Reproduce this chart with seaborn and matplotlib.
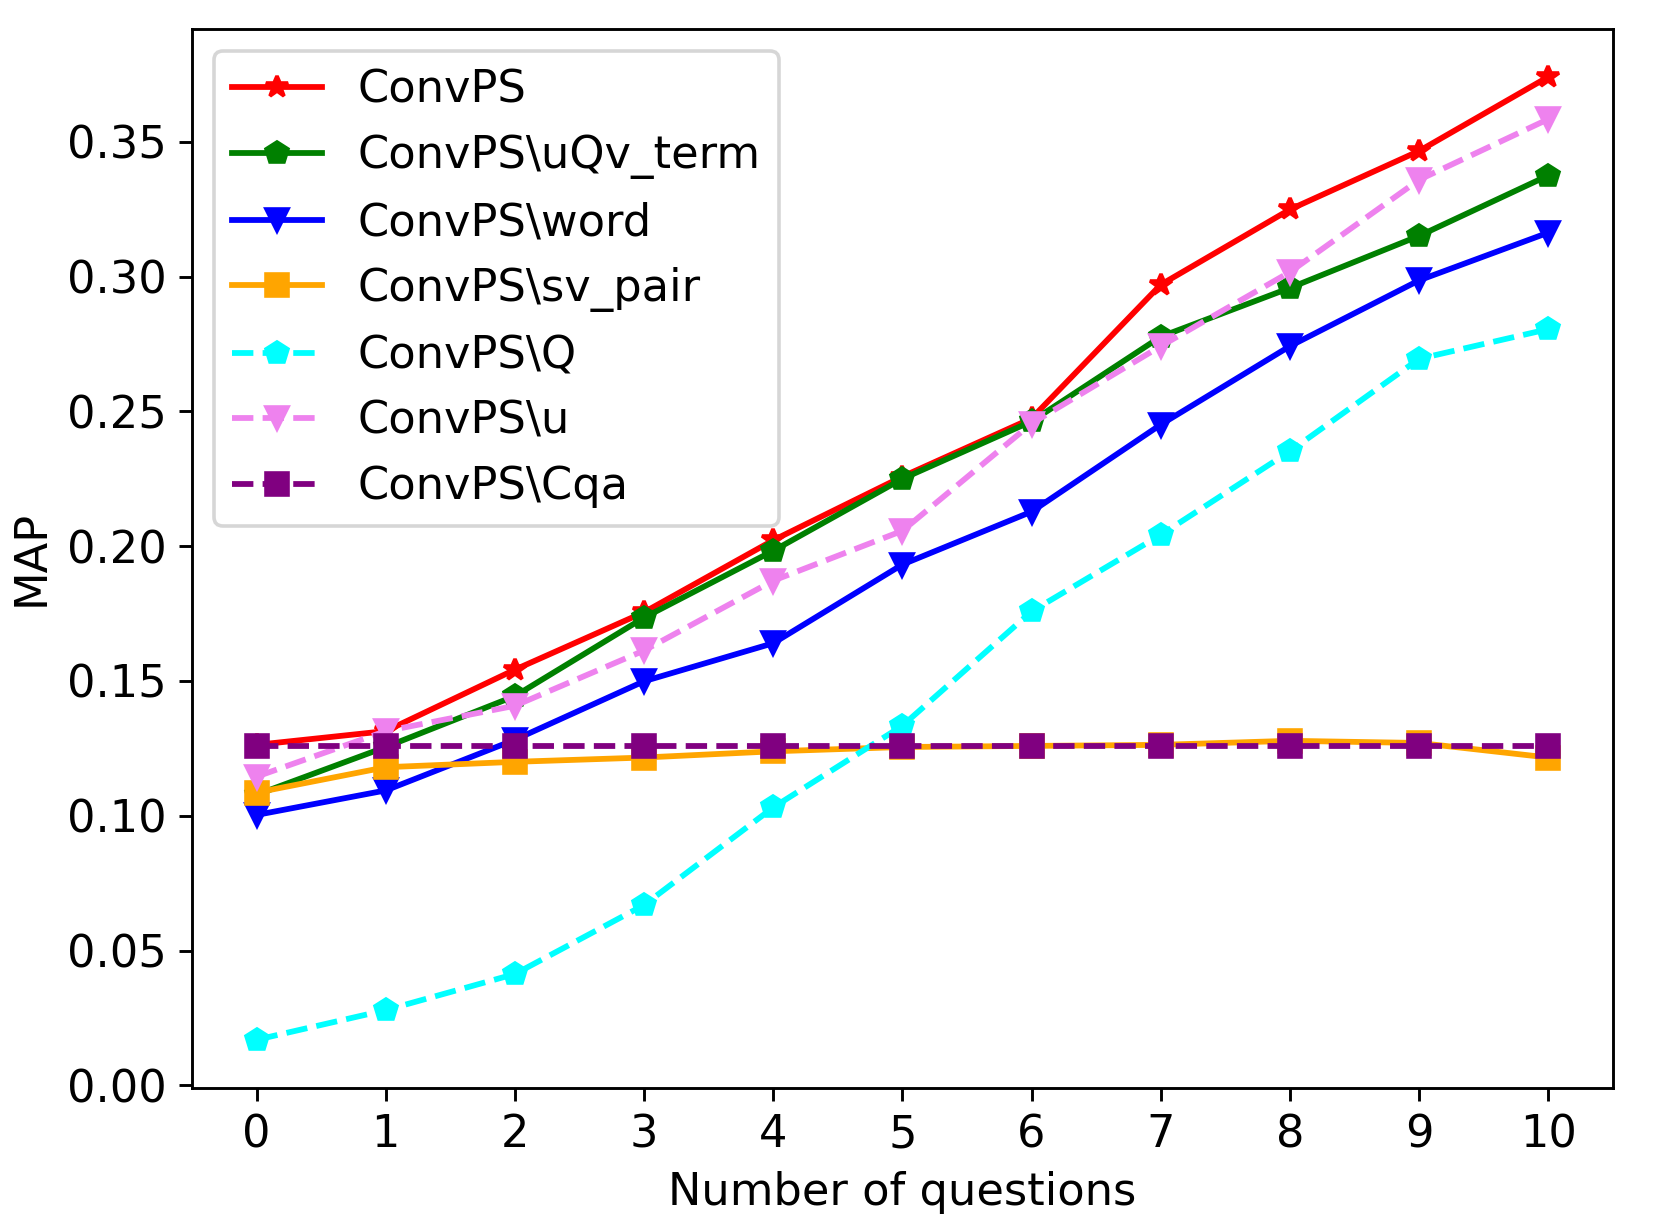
import matplotlib
matplotlib.use("Agg")
import matplotlib.pyplot as plt
import seaborn as sns
import pandas as pd

# === data ===
questions = list(range(11))

convps = [0.1263, 0.1314, 0.1542, 0.1755, 0.2022, 0.2258, 0.2474, 0.2970, 0.3249, 0.3466, 0.3741]
no_uqv_term = [0.1078, 0.1255, 0.1444, 0.1735, 0.1983, 0.2250, 0.2463, 0.2777, 0.2958, 0.3151, 0.3375]
no_word = [0.1003, 0.1094, 0.1282, 0.1499, 0.1640, 0.1932, 0.2128, 0.2451, 0.2742, 0.2986, 0.3163]
no_sv_pair = [0.1086, 0.1180, 0.1200, 0.1216, 0.1239, 0.1255, 0.1259, 0.1263, 0.1278, 0.1270, 0.1216]
no_q = [0.0169, 0.0279, 0.0413, 0.0669, 0.1031, 0.1334, 0.1758, 0.2042, 0.2352, 0.2695, 0.2805]
no_u = [0.1145, 0.1314, 0.1408, 0.1613, 0.1872, 0.2057, 0.2455, 0.2742, 0.3017, 0.3359, 0.3584]
no_cqa = [0.1259, 0.1259, 0.1259, 0.1259, 0.1259, 0.1259, 0.1259, 0.1259, 0.1259, 0.1259, 0.1259]

labels = ["ConvPS", "ConvPS\\uQv_term", "ConvPS\\word", "ConvPS\\sv_pair",
          "ConvPS\\Q", "ConvPS\\u", "ConvPS\\Cqa"]
series = [convps, no_uqv_term, no_word, no_sv_pair, no_q, no_u, no_cqa]
colors = ["red", "green", "blue", "orange", "cyan", "violet", "purple"]
markers = ["*", "p", "v", "s", "p", "v", "s"]
styles = ["-", "-", "-", "-", "--", "--", "--"]

plt.rcParams["font.size"] = 12.4
plt.rcParams["font.family"] = ["DejaVu Sans"]

fig, ax = plt.subplots(figsize=(1661 / 260, 1221 / 260), dpi=260)

for lab, vals, c, m, ls in zip(labels, series, colors, markers, styles):
    df = pd.DataFrame({"q": questions, "map": vals})
    sns.lineplot(data=df, x="q", y="map", label=lab, color=c, marker=m,
                 linestyle=ls, markersize=6.3, linewidth=1.6,
                 markeredgecolor=c, markeredgewidth=1, ax=ax)

ax.set_xticks(questions)
ax.set_xlabel("Number of questions")
ax.set_ylabel("MAP")
ax.legend(loc="upper left")

fig.subplots_adjust(left=0.1156, right=0.971, top=0.9765, bottom=0.109)
fig.savefig("out.png", dpi=260)
